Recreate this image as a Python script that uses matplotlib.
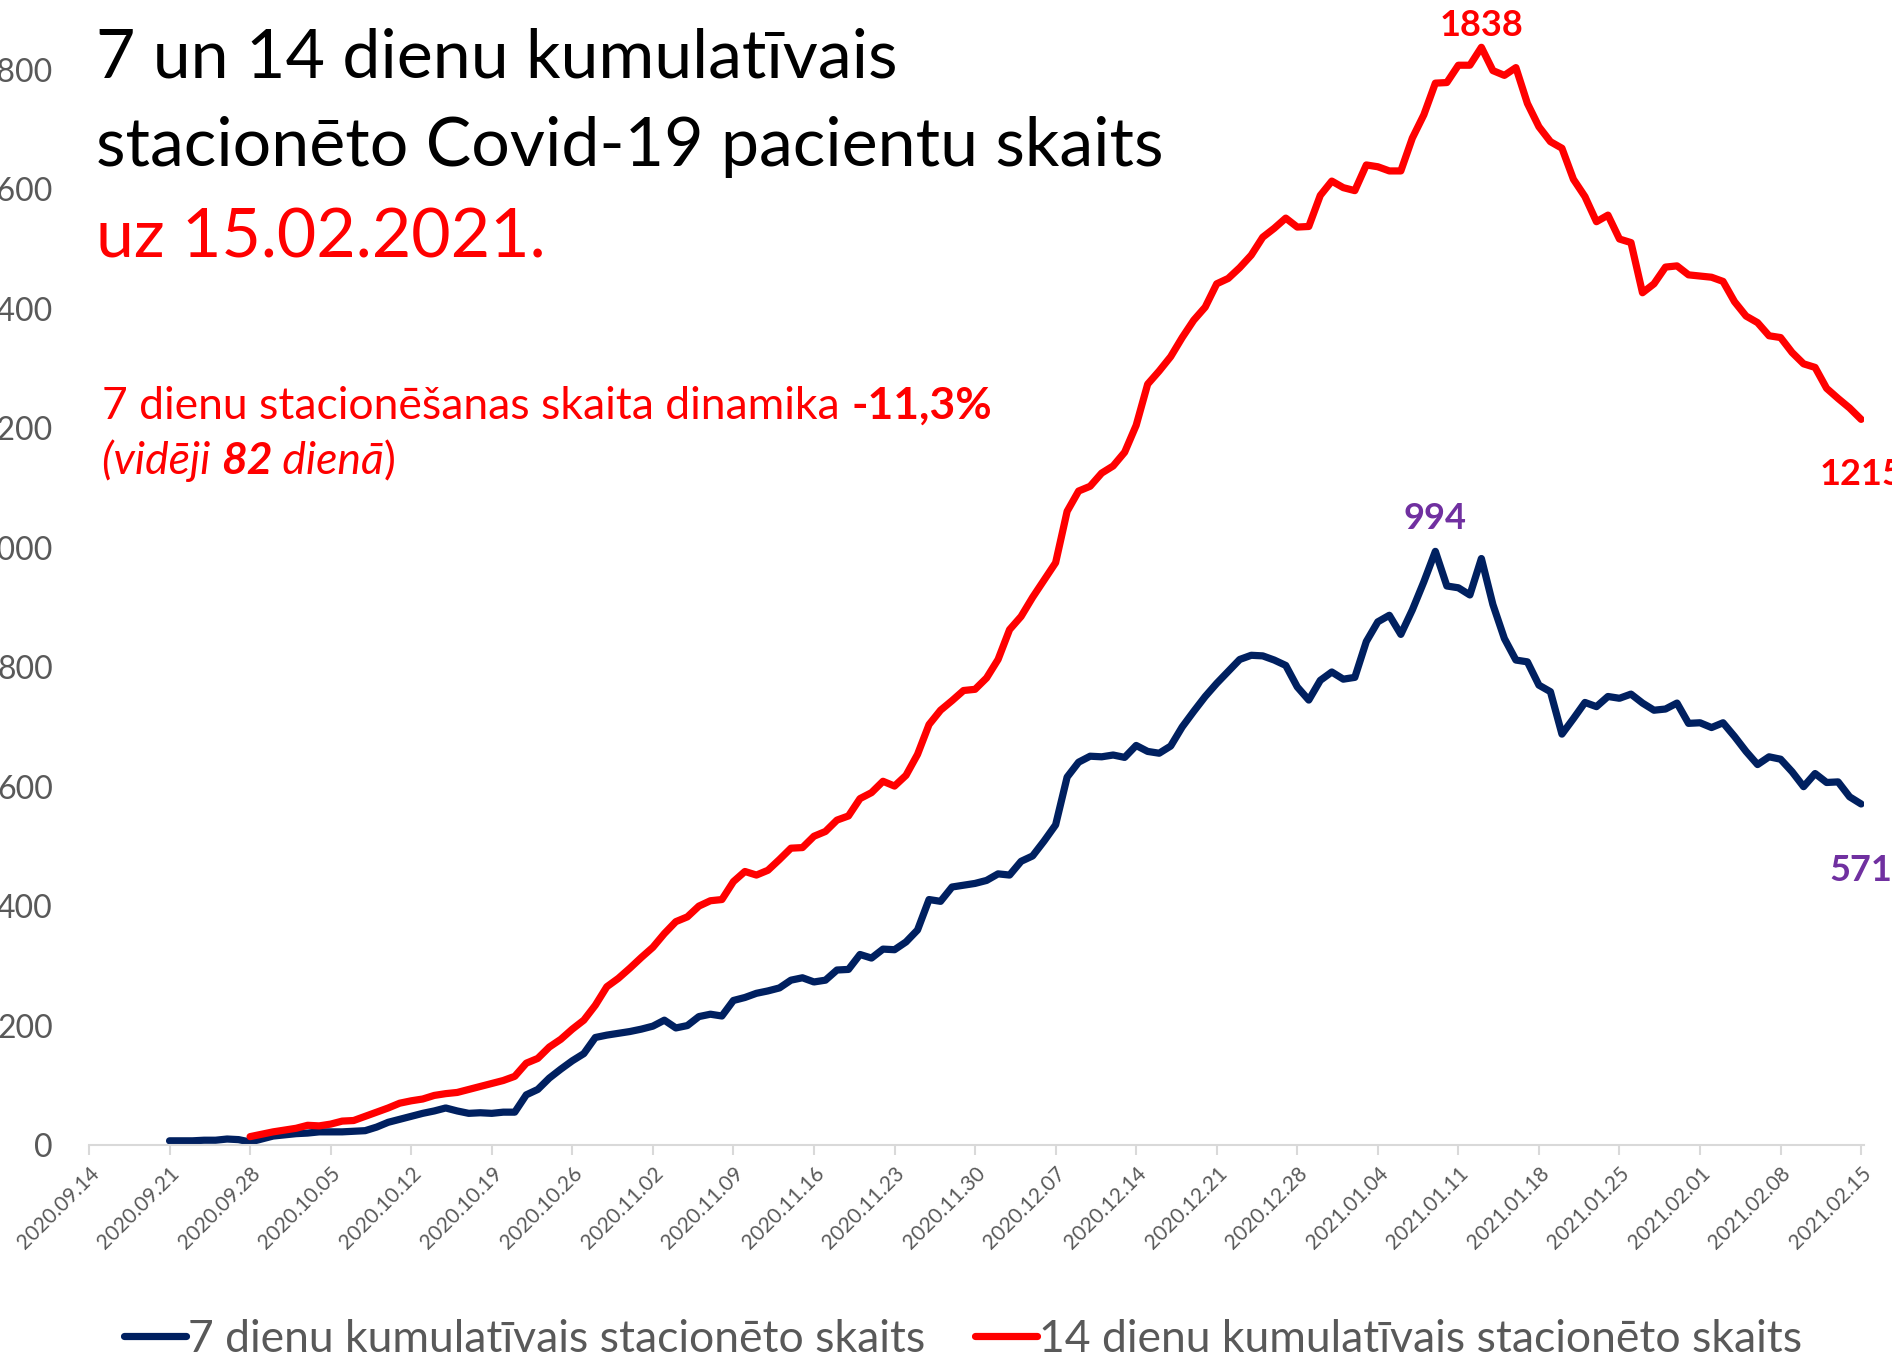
import numpy as np
import pandas as pd
import matplotlib
matplotlib.use("Agg")
import matplotlib.pyplot as plt
import matplotlib.dates as mdates

plt.rcParams['font.family'] = ['Lato', 'DejaVu Sans']

# 7 dienu kumulativais stacioneto skaits, 2020.09.21 - 2021.02.15
start_7 = "2020-09-21"
values_7 = [
    7, 7, 7, 8, 8, 10, 9,
    5, 10, 15, 17, 19, 20, 22,
    22, 22, 23, 24, 30, 38, 43,
    48, 53, 57, 62, 57, 53, 54,
    53, 55, 55, 84, 93, 112, 127,
    141, 153, 180, 184, 187, 190, 194,
    199, 209, 196, 200, 215, 219, 216,
    242, 247, 254, 258, 263, 276, 280,
    273, 276, 293, 294, 319, 313, 328,
    327, 340, 360, 411, 408, 432, 435,
    438, 443, 454, 452, 475, 484, 509,
    536, 616, 641, 651, 650, 653, 649,
    669, 659, 656, 668, 700, 726, 751,
    773, 793, 813, 820, 819, 812, 803,
    767, 745, 778, 792, 780, 783, 843,
    876, 887, 855, 896, 943, 994, 936,
    933, 921, 982, 905, 848, 812, 809,
    770, 759, 688, 714, 741, 734, 751,
    748, 755, 740, 728, 730, 740, 706,
    707, 699, 707, 684, 659, 637, 650,
    646, 625, 600, 622, 607, 608, 583,
    571,
]

# 14 dienu kumulativais stacioneto skaits, 2020.09.28 - 2021.02.15
start_14 = "2020-09-28"
values_14 = [
    14, 18, 22, 25, 28, 33, 32,
    35, 40, 41, 48, 55, 62, 70,
    74, 77, 83, 86, 88, 93, 98,
    103, 108, 115, 137, 145, 164, 177,
    194, 209, 234, 265, 279, 296, 314,
    331, 354, 374, 382, 400, 409, 411,
    441, 458, 452, 460, 478, 497, 498,
    517, 525, 544, 551, 580, 590, 609,
    601, 619, 654, 704, 728, 744, 761,
    763, 782, 813, 863, 885, 917, 946,
    975, 1061, 1095, 1103, 1125, 1137, 1160,
    1205, 1274, 1296, 1320, 1352, 1381, 1403,
    1442, 1451, 1469, 1490, 1520, 1535, 1552,
    1537, 1538, 1590, 1614, 1603, 1598, 1641,
    1638, 1631, 1631, 1686, 1725, 1778, 1779,
    1808, 1808, 1838, 1799, 1791, 1804, 1744,
    1705, 1680, 1669, 1617, 1588, 1546, 1557,
    1517, 1511, 1427, 1442, 1470, 1472, 1457,
    1455, 1453, 1446, 1412, 1388, 1377, 1355,
    1352, 1327, 1308, 1302, 1267, 1250, 1234,
    1215,
]

label_7 = "7 dienu kumulatīvais stacionēto skaits"
label_14 = "14 dienu kumulatīvais stacionēto skaits"
y_ticks = [0, 200, 400, 600, 800, 1000, 1200, 1400, 1600, 1800]

BLUE = "#002060"
RED = "#FF0000"
PURPLE = "#7030A0"
GRAY = "#595959"

dates_7 = pd.date_range(start_7, periods=len(values_7), freq="D")
dates_14 = pd.date_range(start_14, periods=len(values_14), freq="D")
tick_dates = pd.date_range("2020-09-14", "2021-02-15", freq="7D")

W, H = 1892, 1360
fig = plt.figure(figsize=(W / 100, H / 100), dpi=100)
ax = fig.add_axes([89 / W, (H - 1145) / H, (1864 - 89) / W, 1145 / H])

ax.plot(dates_7, values_7, color=BLUE, lw=5.2, solid_capstyle="round",
        solid_joinstyle="round", label=label_7)
ax.plot(dates_14, values_14, color=RED, lw=5.2, solid_capstyle="round",
        solid_joinstyle="round", label=label_14)

x0 = pd.Timestamp("2020-09-14")
ax.set_xlim(x0, x0 + pd.Timedelta(days=154.25))
ax.set_ylim(0, 1145 / (1075 / 1800))

ax.set_yticks(y_ticks)
ax.tick_params(axis="y", length=0, pad=26, labelsize=23, labelcolor=GRAY)
ax.set_xticks(tick_dates)
ax.xaxis.set_major_formatter(mdates.DateFormatter("%Y.%m.%d"))
ax.tick_params(axis="x", length=7, width=1.5, color="#D9D9D9", pad=6,
               labelsize=15, labelcolor=GRAY)
for lbl in ax.get_xticklabels():
    lbl.set_rotation(45)
    lbl.set_ha("right")
    lbl.set_va("top")
    lbl.set_rotation_mode("anchor")

for side in ["left", "right", "top"]:
    ax.spines[side].set_visible(False)
ax.spines["bottom"].set_color("#D9D9D9")
ax.spines["bottom"].set_linewidth(1.5)
ax.patch.set_alpha(0)

# value labels
i_max14 = int(np.argmax(values_14))
i_max7 = int(np.argmax(values_7))
ax.annotate(str(values_14[i_max14]), (dates_14[i_max14], values_14[i_max14]),
            xytext=(0, 8), textcoords="offset points", ha="center",
            va="baseline", color=RED, fontsize=26, fontweight="bold",
            annotation_clip=False)
ax.annotate(str(values_7[i_max7]), (dates_7[i_max7], values_7[i_max7]),
            xytext=(0, 12), textcoords="offset points", ha="center",
            va="bottom", color=PURPLE, fontsize=26, fontweight="bold",
            annotation_clip=False)
ax.annotate(str(values_14[-1]), (dates_14[-1], values_14[-1]),
            xytext=(0, -28), textcoords="offset points", ha="center",
            va="top", color=RED, fontsize=26, fontweight="bold",
            annotation_clip=False)
ax.annotate(str(values_7[-1]), (dates_7[-1], values_7[-1]),
            xytext=(0, -36), textcoords="offset points", ha="center",
            va="top", color=PURPLE, fontsize=26, fontweight="bold",
            annotation_clip=False)

# titles
renderer = fig.canvas.get_renderer()


def put_parts(x, y, parts, size):
    for s, color, weight, style in parts:
        t = fig.text(x / W, 1 - y / H, s, color=color, fontsize=size,
                     fontweight=weight, fontstyle=style, va="baseline",
                     ha="left")
        x += t.get_window_extent(renderer).width


fig.text(96 / W, 1 - 78 / H, "7 un 14 dienu kumulatīvais", fontsize=49,
         color="black", va="baseline")
fig.text(96 / W, 1 - 166 / H, "stacionēto Covid-19 pacientu skaits",
         fontsize=49, color="black", va="baseline")
fig.text(96 / W, 1 - 257 / H, "uz 15.02.2021.", fontsize=49, color=RED,
         va="baseline")

put_parts(102, 419, [("7 dienu stacionēšanas skaita dinamika ", RED, "normal", "normal"),
                     ("-11,3%", RED, "bold", "normal")], 32)
put_parts(102, 474, [("(vidēji ", RED, "normal", "italic"),
                     ("82", RED, "bold", "italic"),
                     (" dienā", RED, "normal", "italic"),
                     (")", RED, "normal", "normal")], 32)

fig.legend(loc="center", bbox_to_anchor=(963 / W, 21 / H), ncol=2,
           frameon=False, fontsize=32, labelcolor=GRAY, handlelength=1.4,
           handletextpad=0.05, columnspacing=1.1, borderpad=0)

fig.savefig("out.png", dpi=100)
